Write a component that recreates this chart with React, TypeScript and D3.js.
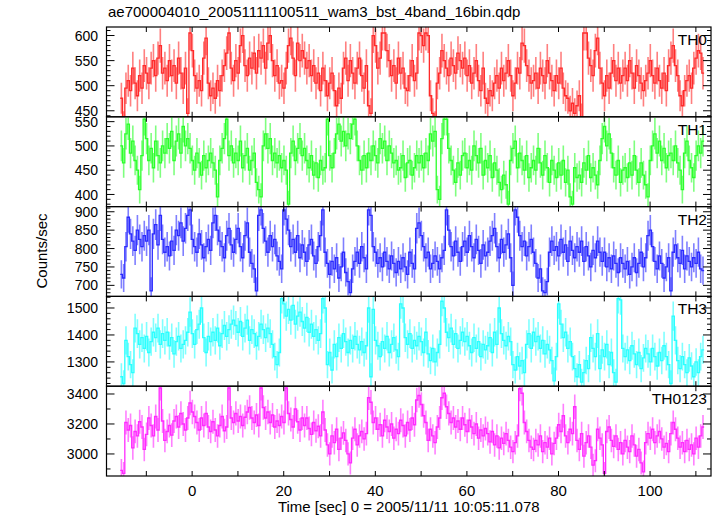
import React from 'react';
import * as d3 from 'd3';

const W = 717;
const H = 516;

const title = 'ae700004010_20051111100511_wam3_bst_4band_16bin.qdp';
const xLabel = 'Time [sec] 0 = 2005/11/11 10:05:11.078';
const yLabel = 'Counts/sec';
const binStart = -15.7;
const binWidth = 0.5;
const xTickLabels = [0, 20, 40, 60, 80, 100];

const th0 = [
  475, 420, 495, 510, 490, 535, 505, 480, 520, 495,
  540, 525, 505, 535, 550, 520, 555, 580, 525, 535,
  510, 550, 520, 540, 505, 555, 525, 495, 535, 445,
  605, 570, 520, 495, 510, 490, 555, 595, 505, 480,
  495, 475, 510, 490, 520, 540, 565, 605, 535, 510,
  550, 525, 580, 600, 540, 520, 555, 535, 565, 525,
  570, 555, 580, 535, 585, 600, 550, 520, 540, 505,
  510, 495, 535, 580, 595, 555, 520, 585, 550, 570,
  555, 535, 550, 520, 540, 505, 525, 490, 535, 510,
  480, 505, 525, 490, 460, 495, 475, 535, 555, 510,
  550, 525, 505, 535, 555, 520, 495, 540, 460, 445,
  600, 580, 535, 555, 605, 605, 570, 550, 520, 540,
  505, 555, 525, 535, 495, 490, 520, 550, 510, 525,
  605, 600, 580, 605, 600, 480, 445, 420, 505, 525,
  570, 550, 535, 520, 555, 540, 525, 565, 550, 535,
  555, 520, 540, 505, 525, 550, 510, 490, 535, 475,
  465, 490, 480, 505, 520, 495, 535, 510, 525, 550,
  520, 480, 505, 535, 525, 585, 580, 540, 520, 505,
  510, 525, 495, 535, 520, 505, 550, 525, 510, 490,
  520, 505, 535, 495, 480, 475, 450, 465, 445, 460,
  480, 435, 605, 605, 555, 540, 520, 570, 595, 535,
  505, 480, 520, 495, 525, 550, 510, 535, 505, 520,
  535, 510, 550, 525, 495, 540, 520, 505, 490, 510,
  525, 550, 520, 505, 535, 510, 495, 525, 490, 540,
  555, 580, 540, 520, 480, 460, 490, 510, 520, 495,
  535, 555, 570, 565, 525,
];

const th1 = [
  500, 465, 525, 545, 485, 510, 470, 450, 410, 480,
  555, 515, 470, 495, 455, 510, 480, 465, 500, 485,
  515, 495, 530, 470, 510, 525, 485, 540, 500, 515,
  495, 470, 450, 485, 465, 440, 480, 455, 470, 485,
  465, 450, 395, 470, 495, 515, 555, 480, 500, 465,
  485, 470, 510, 455, 480, 495, 450, 470, 485, 425,
  410, 395, 500, 525, 495, 515, 470, 485, 465, 480,
  455, 470, 450, 380, 485, 510, 470, 495, 515, 480,
  495, 470, 455, 480, 440, 465, 435, 470, 450, 455,
  555, 480, 455, 485, 525, 545, 510, 530, 500, 525,
  515, 545, 555, 500, 470, 450, 480, 455, 485, 470,
  500, 480, 465, 515, 495, 510, 470, 500, 485, 465,
  470, 450, 455, 480, 435, 465, 470, 440, 455, 480,
  465, 480, 455, 485, 470, 525, 510, 530, 410, 390,
  515, 555, 555, 495, 470, 450, 425, 465, 440, 480,
  485, 455, 470, 450, 500, 480, 465, 495, 440, 470,
  455, 480, 435, 465, 450, 425, 410, 440, 420, 380,
  470, 495, 510, 455, 485, 470, 450, 480, 435, 455,
  470, 450, 495, 465, 440, 480, 455, 425, 470, 450,
  435, 465, 440, 470, 425, 450, 395, 380, 455, 435,
  440, 425, 465, 450, 480, 435, 455, 440, 420, 470,
  515, 540, 500, 525, 485, 455, 440, 470, 425, 450,
  455, 435, 465, 440, 480, 450, 425, 465, 440, 420,
  395, 470, 500, 525, 485, 510, 470, 495, 455, 480,
  485, 470, 500, 465, 450, 410, 485, 510, 470, 455,
  435, 480, 500, 485, 510,
];

const th2 = [
  730, 720, 805, 885, 840, 820, 795, 850, 825, 805,
  835, 820, 850, 685, 840, 865, 810, 890, 825, 790,
  805, 780, 820, 795, 850, 835, 870, 820, 855, 890,
  905, 825, 805, 790, 840, 810, 775, 805, 825, 795,
  870, 890, 850, 820, 805, 775, 835, 855, 810, 790,
  825, 855, 805, 775, 835, 870, 790, 760, 745, 685,
  890, 905, 855, 820, 790, 835, 805, 825, 780, 765,
  745, 905, 880, 850, 805, 825, 790, 835, 775, 810,
  790, 765, 810, 825, 780, 760, 805, 835, 905, 790,
  760, 730, 765, 745, 775, 720, 750, 790, 735, 710,
  680, 745, 765, 790, 760, 805, 775, 745, 905, 890,
  805, 790, 760, 775, 750, 790, 765, 745, 780, 760,
  735, 765, 745, 775, 750, 730, 790, 760, 745, 855,
  870, 835, 805, 775, 790, 745, 760, 780, 765, 745,
  775, 795, 905, 850, 805, 780, 820, 790, 765, 805,
  820, 790, 835, 805, 775, 825, 795, 760, 810, 780,
  790, 820, 835, 855, 805, 775, 825, 790, 810, 840,
  775, 700, 905, 885, 835, 805, 820, 780, 805, 825,
  790, 760, 720, 745, 685, 680, 710, 790, 820, 795,
  805, 780, 825, 790, 810, 765, 820, 795, 775, 805,
  790, 820, 765, 805, 780, 750, 795, 775, 820, 790,
  765, 790, 750, 775, 745, 780, 760, 735, 775, 760,
  745, 765, 730, 750, 775, 735, 760, 790, 750, 775,
  835, 850, 805, 765, 745, 780, 760, 720, 750, 775,
  685, 790, 810, 775, 760, 795, 745, 780, 765, 750,
  775, 760, 790, 745, 740,
];

const th3 = [
  1245, 1220, 1380, 1320, 1290, 1260, 1425, 1405, 1365, 1390,
  1350, 1395, 1335, 1375, 1410, 1390, 1425, 1365, 1405, 1380,
  1410, 1360, 1390, 1330, 1375, 1395, 1350, 1365, 1380, 1410,
  1485, 1405, 1365, 1420, 1440, 1500, 1390, 1335, 1395, 1375,
  1410, 1380, 1425, 1360, 1405, 1435, 1395, 1420, 1440, 1455,
  1435, 1410, 1450, 1395, 1425, 1455, 1380, 1420, 1405, 1360,
  1395, 1440, 1420, 1390, 1425, 1405, 1365, 1320, 1290, 1335,
  1535, 1515, 1470, 1495, 1455, 1510, 1440, 1470, 1485, 1450,
  1425, 1465, 1410, 1440, 1395, 1420, 1380, 1405, 1535, 1500,
  1290, 1335, 1270, 1365, 1320, 1390, 1350, 1405, 1375, 1335,
  1380, 1350, 1395, 1365, 1345, 1375, 1335, 1360, 1500, 1245,
  1495, 1380, 1360, 1320, 1375, 1350, 1395, 1335, 1365, 1390,
  1345, 1320, 1515, 1500, 1390, 1365, 1405, 1350, 1380, 1360,
  1395, 1375, 1335, 1410, 1330, 1305, 1350, 1300, 1335, 1365,
  1525, 1500, 1410, 1390, 1425, 1365, 1405, 1350, 1380, 1410,
  1375, 1395, 1360, 1335, 1390, 1350, 1375, 1320, 1365, 1345,
  1360, 1390, 1335, 1410, 1365, 1500, 1405, 1380, 1360, 1395,
  1375, 1290, 1270, 1320, 1285, 1305, 1260, 1365, 1405, 1350,
  1410, 1375, 1395, 1350, 1380, 1330, 1365, 1345, 1305, 1230,
  1320, 1515, 1440, 1390, 1410, 1350, 1375, 1320, 1275, 1245,
  1290, 1225, 1260, 1305, 1275, 1390, 1350, 1320, 1405, 1275,
  1345, 1320, 1365, 1290, 1335, 1260, 1225, 1535, 1530, 1350,
  1320, 1345, 1305, 1360, 1330, 1290, 1335, 1275, 1315, 1350,
  1330, 1300, 1350, 1320, 1285, 1335, 1305, 1360, 1320, 1290,
  1220, 1470, 1380, 1305, 1275, 1320, 1290, 1260, 1315, 1285,
  1245, 1300, 1260, 1320, 1345,
];

const th0123 = [
  2890, 2870, 3210, 3160, 3190, 3040, 3150, 3120, 3215, 3180,
  3030, 3130, 3240, 3190, 3120, 3250, 3160, 3440, 3220, 3090,
  3150, 3190, 3125, 3220, 3250, 3180, 3270, 3200, 3160, 3240,
  3340, 3280, 3250, 3210, 3160, 3240, 3190, 3270, 3180, 3150,
  3215, 3160, 3120, 3190, 3250, 3155, 3180, 3440, 3240, 3210,
  3270, 3220, 3250, 3190, 3245, 3280, 3310, 3240, 3210, 3260,
  3190, 3440, 3310, 3240, 3280, 3210, 3260, 3180, 3220, 3190,
  3250, 3210, 3440, 3270, 3230, 3180, 3300, 3215, 3160, 3240,
  3190, 3240, 3170, 3130, 3210, 3155, 3185, 3120, 3280, 3160,
  3060, 3000, 3120, 3075, 3165, 3030, 3105, 3140, 3090, 3000,
  2940, 3105, 3165, 3060, 3120, 3150, 3100, 3135, 3375, 3345,
  3210, 3240, 3165, 3195, 3120, 3225, 3180, 3150, 3200, 3105,
  3165, 3135, 3225, 3190, 3120, 3210, 3160, 3240, 3195, 3360,
  3390, 3330, 3255, 3210, 3090, 3165, 3120, 3075, 3180, 3240,
  3375, 3405, 3315, 3270, 3210, 3240, 3180, 3220, 3165, 3240,
  3195, 3150, 3225, 3180, 3135, 3200, 3105, 3160, 3120, 3170,
  3135, 3080, 3150, 3060, 3120, 3040, 3105, 3070, 3135, 3090,
  3045, 3015, 3075, 3120, 3435, 3405, 3210, 3150, 3090, 3045,
  3030, 3090, 3060, 3120, 3015, 3075, 3045, 3105, 3000, 3070,
  3105, 3195, 3150, 3255, 3120, 3075, 3165, 3135, 3315, 3090,
  3030, 3135, 2985, 3075, 3120, 3045, 2925, 2955, 3165, 3105,
  3060, 2870, 3150, 3180, 3090, 3050, 3120, 3030, 3075, 3000,
  3090, 3045, 3015, 3120, 3060, 2985, 3030, 2940, 2880, 3075,
  3135, 3105, 3165, 3075, 3120, 3150, 3100, 3045, 3070, 3015,
  3135, 3210, 3165, 3105, 3045, 3075, 3015, 3090, 3030, 3060,
  3000, 3105, 3045, 3120, 3180,
];

const panelNames = ['TH0', 'TH1', 'TH2', 'TH3', 'TH0123'];
const panelData = [th0, th1, th2, th3, th0123];
const panelDomains: [number, number][] = [
  [438, 617],
  [375, 560],
  [670, 914],
  [1210, 1543],
  [2853, 3452],
];
const panelMajorTicks = [
  [450, 500, 550, 600],
  [400, 450, 500, 550],
  [700, 750, 800, 850, 900],
  [1300, 1400, 1500],
  [3000, 3200, 3400],
];
const panelMinorSteps = [10, 10, 10, 20, 100];
const panelColors = ['#ff2a2a', '#2aff2a', '#2a2aff', '#2affff', '#ff2aff'];

const FONT = '"Liberation Sans", Arial, Helvetica, sans-serif';

export default function App() {
  const left = 106.5;
  const right = 711;
  const top = 27;
  const bottom = 476;
  const ph = (bottom - top) / panelNames.length;

  const x = d3.scaleLinear().domain([-18.7, 113.3]).range([left, right]);
  const xTicks = d3.range(-10, 111, 10);

  return (
    <svg width={W} height={H} style={{ position: 'absolute', left: 0, top: 0, background: '#fff' }}
      fontFamily={FONT}>
      <rect x={0} y={0} width={W} height={H} fill="#fff" />
      <defs>
        {panelNames.map((n, i) => (
          <clipPath id={`clip${i}`} key={n}>
            <rect x={left} y={top + i * ph} width={right - left} height={ph} />
          </clipPath>
        ))}
      </defs>
      <text x={108} y={17} fontSize={15} fill="#000">{title}</text>
      {panelNames.map((name, i) => {
        const y0 = top + i * ph;
        const y1 = y0 + ph;
        const y = d3.scaleLinear().domain(panelDomains[i]).range([y1, y0]);
        const vals = panelData[i];
        const pts: [number, number][] = vals.map((v, k) => [binStart + k * binWidth, v]);
        pts.push([binStart + vals.length * binWidth, vals[vals.length - 1]]);
        const line = d3.line<[number, number]>()
          .x(d => x(d[0]))
          .y(d => y(d[1]))
          .curve(d3.curveStepAfter);
        const color = panelColors[i];
        const [d0, d1] = panelDomains[i];
        const minor = d3.range(Math.ceil(d0 / panelMinorSteps[i]) * panelMinorSteps[i], d1, panelMinorSteps[i])
          .filter(t => !panelMajorTicks[i].includes(t));
        return (
          <g key={name}>
            <g clipPath={`url(#clip${i})`}>
              {vals.map((v, k) => {
                const err = Math.sqrt(v / binWidth);
                const cx = x(binStart + (k + 0.5) * binWidth);
                return (
                  <line key={k} x1={cx} x2={cx} y1={y(v - err)} y2={y(v + err)}
                    stroke={color} strokeOpacity={0.6} strokeWidth={1.6} />
                );
              })}
              <path d={line(pts) || ''} fill="none" stroke={color} strokeWidth={1.3} />
            </g>
            <rect x={left} y={y0} width={right - left} height={ph} fill="none" stroke="#000" strokeWidth={1.2} />
            {xTicks.map(t => (
              <g key={t}>
                <line x1={x(t)} x2={x(t)} y1={y0} y2={y0 + 5} stroke="#000" strokeWidth={1} />
                <line x1={x(t)} x2={x(t)} y1={y1} y2={y1 - 5} stroke="#000" strokeWidth={1} />
              </g>
            ))}
            {panelMajorTicks[i].map(t => (
              <g key={`M${t}`}>
                <line x1={left} x2={left + 8} y1={y(t)} y2={y(t)} stroke="#000" strokeWidth={1} />
                <line x1={right} x2={right - 8} y1={y(t)} y2={y(t)} stroke="#000" strokeWidth={1} />
                <text x={98} y={y(t)} dy="0.36em" textAnchor="end" fontSize={14} fill="#000">{t}</text>
              </g>
            ))}
            {minor.map(t => (
              <g key={`m${t}`}>
                <line x1={left} x2={left + 4} y1={y(t)} y2={y(t)} stroke="#000" strokeWidth={1} />
                <line x1={right} x2={right - 4} y1={y(t)} y2={y(t)} stroke="#000" strokeWidth={1} />
              </g>
            ))}
            <text x={707} y={y0 + 18} textAnchor="end" fontSize={15.5} fill="#000">{name}</text>
          </g>
        );
      })}
      {xTickLabels.map(t => (
        <text key={t} x={x(t)} y={496} textAnchor="middle" fontSize={15} fill="#000">{t}</text>
      ))}
      <text x={(left + right) / 2} y={512} textAnchor="middle" fontSize={15} fill="#000">{xLabel}</text>
      <text transform={`translate(47,251) rotate(-90)`} textAnchor="middle" fontSize={15} fill="#000">{yLabel}</text>
    </svg>
  );
}
